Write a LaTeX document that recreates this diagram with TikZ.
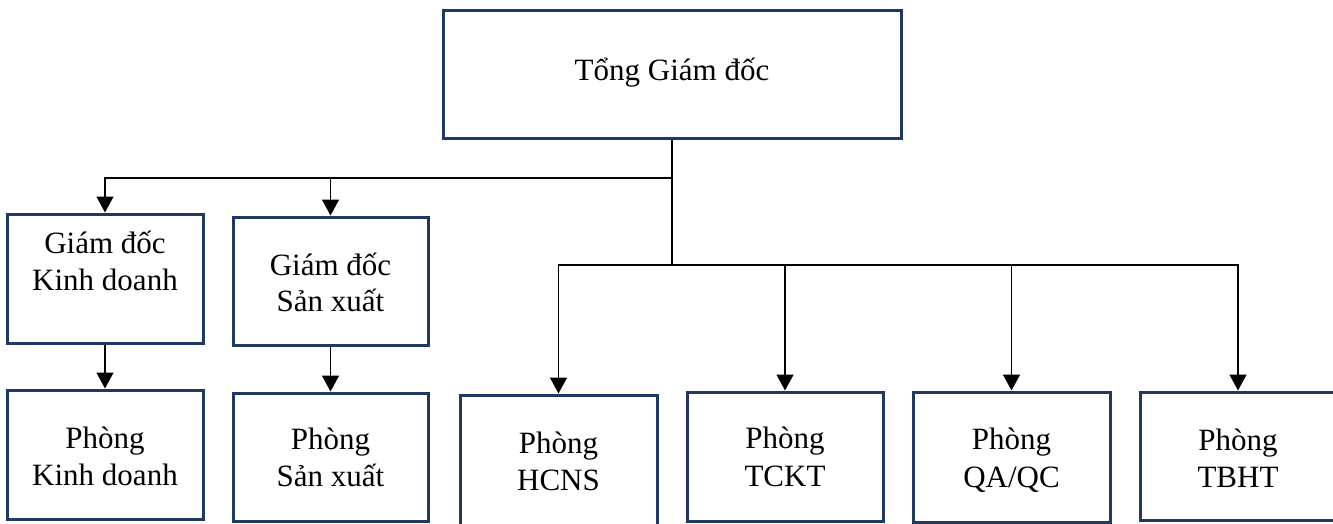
\documentclass[tikz,border=0pt]{standalone}
\usepackage{fontspec}
\setmainfont{Liberation Serif}
\usetikzlibrary{arrows.meta}
\definecolor{boxnavy}{RGB}{31,56,100}
\begin{document}
\begin{tikzpicture}[x=1pt,y=-1pt,
  unit/.style={draw=boxnavy,line width=3pt,fill=white,rectangle,inner sep=0pt},
  txt/.style={anchor=base,inner sep=0pt,font=\fontsize{31}{37}\selectfont},
  link/.style={draw=black,line width=1.5pt},
  arr/.style={link,-{Triangle[width=17pt,length=16pt]}}]
\useasboundingbox (0,0) rectangle (1333,523);
\clip (0,0) rectangle (1333,523);

% boxes (centre, size)
\node[unit,minimum width=458pt,minimum height=128pt] (tgd) at (672,74) {};
\node[unit,minimum width=196pt,minimum height=129pt] (gkd) at (105,278.5) {};
\node[unit,minimum width=195pt,minimum height=128pt] (gsx) at (330.5,281) {};
\node[unit,minimum width=196pt,minimum height=129pt] (pkd) at (105,454.5) {};
\node[unit,minimum width=195pt,minimum height=128pt] (psx) at (330.5,457) {};
\node[unit,minimum width=197pt,minimum height=134pt] (hcns) at (558.5,462) {};
\node[unit,minimum width=196pt,minimum height=129pt] (tckt) at (785,456.5) {};
\node[unit,minimum width=197pt,minimum height=130pt] (qaqc) at (1011.5,457) {};
\node[unit,minimum width=196pt,minimum height=128pt] (tbht) at (1238,456) {};

% labels
\node[txt] (tgd-t) at (672,80) {Tổng Giám đốc};
\node[txt] (gkd-a) at (105,253) {Giám đốc};
\node[txt] (gkd-b) at (105,290) {Kinh doanh};
\node[txt] (gsx-a) at (330.5,275) {Giám đốc};
\node[txt] (gsx-b) at (330.5,311) {Sản xuất};
\node[txt] (pkd-a) at (105,448) {Phòng};
\node[txt] (pkd-b) at (105,485) {Kinh doanh};
\node[txt] (psx-a) at (330.5,449) {Phòng};
\node[txt] (psx-b) at (330.5,486) {Sản xuất};
\node[txt] (hcns-a) at (558.5,453) {Phòng};
\node[txt] (hcns-b) at (558.5,490) {HCNS};
\node[txt] (tckt-a) at (785,448) {Phòng};
\node[txt] (tckt-b) at (785,486) {TCKT};
\node[txt] (qaqc-a) at (1011.5,449) {Phòng};
\node[txt] (qaqc-b) at (1011.5,487) {QA/QC};
\node[txt] (tbht-a) at (1238,450) {Phòng};
\node[txt] (tbht-b) at (1238,487) {TBHT};

% junctions on the trunk
\coordinate (j1) at (672,178);
\coordinate (j2) at (672,265);

% connectors
\draw[link,line width=2pt] (tgd.south) -- (j2);
\draw[arr] (j1) -| (gkd.north);
\draw[arr] (j1) -| (gsx.north);
\draw[arr] (j2) -| (hcns.north);
\draw[arr] (j2) -| (tckt.north);
\draw[arr] (j2) -| (qaqc.north);
\draw[arr] (j2) -| (tbht.north);
\draw[arr] (gkd.south) -- (pkd.north);
\draw[arr] (gsx.south) -- (psx.north);
\end{tikzpicture}
\end{document}
